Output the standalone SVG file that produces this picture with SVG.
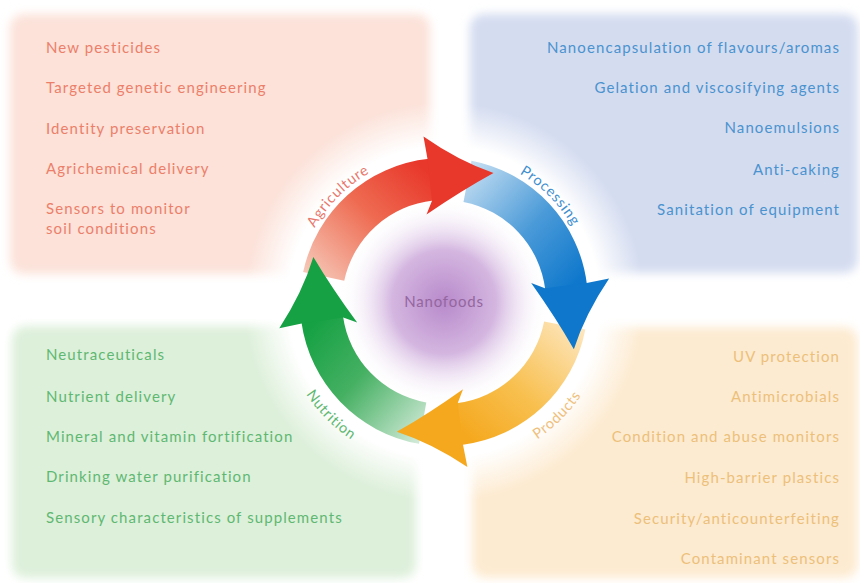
<svg xmlns="http://www.w3.org/2000/svg" width="860" height="583" viewBox="0 0 860 583">
<style>
.t{font-family:Lato,"Open Sans","Liberation Sans",sans-serif;font-size:15px;letter-spacing:1.1px}
.pk{fill:#ec7f6a}.bl{fill:#4a93cf}.gr{fill:#5fb872}.or{fill:#ecc07a}
.lbl{font-family:Lato,"Open Sans","Liberation Sans",sans-serif;font-size:14.5px;letter-spacing:0.8px}
</style>
<defs>
<filter id="soft" x="-10%" y="-10%" width="120%" height="120%"><feGaussianBlur stdDeviation="5"/></filter>
<radialGradient id="halo" cx="444" cy="302" r="200" gradientUnits="userSpaceOnUse">
<stop offset="0" stop-color="#fff" stop-opacity="1"/>
<stop offset="0.78" stop-color="#fff" stop-opacity="1"/>
<stop offset="1" stop-color="#fff" stop-opacity="0"/>
</radialGradient>
<radialGradient id="core" cx="444" cy="302" r="104" gradientUnits="userSpaceOnUse">
<stop offset="0" stop-color="#b88acb"/>
<stop offset="0.5" stop-color="#d4b6e0"/>
<stop offset="1" stop-color="#fff" stop-opacity="0"/>
</radialGradient>
<linearGradient id="gRed" gradientUnits="userSpaceOnUse" x1="318" y1="282" x2="425" y2="168">
<stop offset="0" stop-color="#f6c6b6"/><stop offset="0.55" stop-color="#ee6a50"/><stop offset="1" stop-color="#e8372b"/>
</linearGradient>
<linearGradient id="gBlue" gradientUnits="userSpaceOnUse" x1="318" y1="282" x2="425" y2="168">
<stop offset="0" stop-color="#c4def2"/><stop offset="0.55" stop-color="#4a9ad8"/><stop offset="1" stop-color="#0f78cc"/>
</linearGradient>
<linearGradient id="gOrange" gradientUnits="userSpaceOnUse" x1="318" y1="282" x2="425" y2="168">
<stop offset="0" stop-color="#fde6bd"/><stop offset="0.55" stop-color="#f8c050"/><stop offset="1" stop-color="#f5a81e"/>
</linearGradient>
<linearGradient id="gGreen" gradientUnits="userSpaceOnUse" x1="318" y1="282" x2="425" y2="168">
<stop offset="0" stop-color="#cfe9d6"/><stop offset="0.55" stop-color="#45b062"/><stop offset="1" stop-color="#16a144"/>
</linearGradient>
<path id="band" d="M303.15,272.06 A144,144 0 0 1 428.95,158.79 L433.34,200.56 A102,102 0 0 0 344.23,280.79 Z"/>
<path id="head" d="M427.5,159.0 L423.5,136.5 Q458.5,161.0 493.5,173.0 Q461.5,190.5 426.5,214.5 L432.0,200.8 Z"/>
<path id="arcAgri" d="M295,302 A149,149 0 0 1 444,153"/>
<path id="arcProc" d="M444,153 A149,149 0 0 1 593,302"/>
<path id="arcProd" d="M444,468 A166,166 0 0 0 610,302"/>
<path id="arcNutr" d="M278,302 A166,166 0 0 0 444,468"/>
</defs>
<rect width="860" height="583" fill="#fff"/>
<g id="panel-agriculture">
<rect x="10" y="14" width="420" height="260" rx="14" fill="#fce2d9" filter="url(#soft)"/>
</g>
<g id="panel-processing">
<rect x="470" y="14" width="388" height="259" rx="14" fill="#d4dcf0" filter="url(#soft)"/>
</g>
<g id="panel-nutrition">
<rect x="12" y="326" width="404" height="252" rx="14" fill="#ddf0da" filter="url(#soft)"/>
</g>
<g id="panel-products">
<rect x="472" y="327" width="386" height="251" rx="14" fill="#fdebd1" filter="url(#soft)"/>
</g>
<circle cx="444" cy="302" r="200" fill="url(#halo)"/>
<circle cx="444" cy="302" r="104" fill="url(#core)"/>
<g id="connectors">
<use href="#band" fill="url(#gRed)"/>
<use href="#band" fill="url(#gBlue)" transform="rotate(89 444 302)"/>
<use href="#band" fill="url(#gOrange)" transform="rotate(179 444 302)"/>
<use href="#band" fill="url(#gGreen)" transform="rotate(268 444 302)"/>
<use href="#head" fill="#e8372b"/>
<use href="#head" fill="#0f78cc" transform="rotate(89 444 302)"/>
<use href="#head" fill="#f5a81e" transform="rotate(179 444 302)"/>
<use href="#head" fill="#16a144" transform="rotate(268 444 302)"/>
</g>
<g id="agriculture">
<text class="lbl" fill="#e9776c"><textPath href="#arcAgri" startOffset="50%" text-anchor="middle">Agriculture</textPath></text>
<text class="t pk" x="46" y="53">New pesticides</text>
<text class="t pk" x="46" y="93">Targeted genetic engineering</text>
<text class="t pk" x="46" y="134">Identity preservation</text>
<text class="t pk" x="46" y="174">Agrichemical delivery</text>
<text class="t pk" x="46" y="214">Sensors to monitor</text>
<text class="t pk" x="46" y="234">soil conditions</text>
</g>
<g id="processing">
<text class="lbl" fill="#3f8fcf"><textPath href="#arcProc" startOffset="50%" text-anchor="middle">Processing</textPath></text>
<text class="t bl" x="840" y="53" text-anchor="end">Nanoencapsulation of flavours/aromas</text>
<text class="t bl" x="840" y="93" text-anchor="end">Gelation and viscosifying agents</text>
<text class="t bl" x="840" y="133" text-anchor="end">Nanoemulsions</text>
<text class="t bl" x="840" y="175" text-anchor="end">Anti-caking</text>
<text class="t bl" x="840" y="215" text-anchor="end">Sanitation of equipment</text>
</g>
<g id="products">
<text class="lbl" fill="#eec07c"><textPath href="#arcProd" startOffset="50%" text-anchor="middle">Products</textPath></text>
<text class="t or" x="840" y="362" text-anchor="end">UV protection</text>
<text class="t or" x="840" y="402" text-anchor="end">Antimicrobials</text>
<text class="t or" x="840" y="442" text-anchor="end">Condition and abuse monitors</text>
<text class="t or" x="840" y="483" text-anchor="end">High-barrier plastics</text>
<text class="t or" x="840" y="524" text-anchor="end">Security/anticounterfeiting</text>
<text class="t or" x="840" y="564" text-anchor="end">Contaminant sensors</text>
</g>
<g id="nutrition">
<text class="lbl" fill="#5fb872"><textPath href="#arcNutr" startOffset="50%" text-anchor="middle">Nutrition</textPath></text>
<text class="t gr" x="46" y="360">Neutraceuticals</text>
<text class="t gr" x="46" y="402">Nutrient delivery</text>
<text class="t gr" x="46" y="442">Mineral and vitamin fortification</text>
<text class="t gr" x="46" y="482">Drinking water purification</text>
<text class="t gr" x="46" y="523">Sensory characteristics of supplements</text>
</g>
<g id="nanofoods">
<text x="444" y="307" text-anchor="middle" font-family="Lato,'Open Sans','Liberation Sans',sans-serif" font-size="15" letter-spacing="0.8" fill="#94669f">Nanofoods</text>
</g>
</svg>
